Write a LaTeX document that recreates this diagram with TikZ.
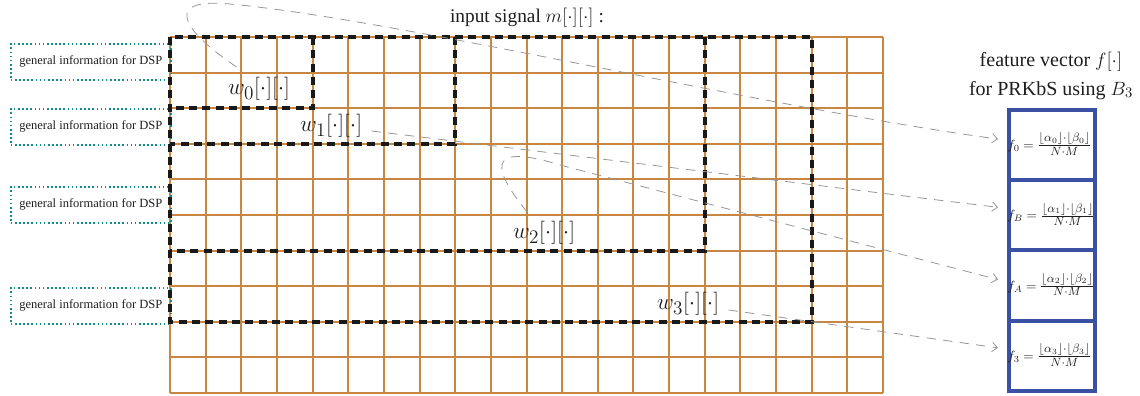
\documentclass[tikz,border=0pt]{standalone}
\usepackage{fontspec}
\setmainfont{Liberation Serif}
\usetikzlibrary{arrows.meta,calc}
\definecolor{gridc}{RGB}{200,134,64}
\definecolor{bluec}{RGB}{58,80,162}
\definecolor{tealc}{RGB}{20,140,140}
\definecolor{connc}{RGB}{150,150,150}
\definecolor{txtc}{RGB}{30,30,30}
\newcommand{\featfrac}[2]{{\fontsize{12.3}{14}\selectfont$\frac{\lfloor\alpha_{#2}\rfloor{\cdot}\lfloor\beta_{#2}\rfloor}{N{\cdot}M}$}}
\begin{document}
\begin{tikzpicture}[x=0.75pt,y=-0.75pt,
  gridline/.style={gridc, line width=1.5pt},
  win/.style={black!90, line width=3pt, dash pattern=on 6pt off 4pt},
  dspbox/.style={draw=tealc, line width=1.2pt, dash pattern=on 1.2pt off 1.9pt,
    minimum width=120pt, minimum height=27pt, inner sep=0pt, anchor=north west,
    text=txtc, font=\fontsize{9.4}{11}\selectfont},
  wlabel/.style={text=txtc, inner sep=1pt, font=\fontsize{19}{21}\selectfont},
  fbox/.style={draw=bluec, line width=3pt, minimum width=64.5pt, minimum height=52.7pt, inner sep=0pt},
  ftext/.style={anchor=west, inner sep=0pt, text=txtc, font=\fontsize{9.8}{12}\selectfont},
  conn/.style={connc, line width=0.6pt, dash pattern=on 7pt off 5.5pt,
    -{Straight Barb[length=4pt,width=7pt]}},
  head/.style={text=txtc, font=\fontsize{15}{21.75}\selectfont, align=center}
]
\useasboundingbox (0,0) rectangle (1140,396);

% grid 20 x 10
\foreach \i in {0,...,20} {
  \draw[gridline] ({170+\i*35.65},37) -- ({170+\i*35.65},393);
}
\foreach \j in {0,...,10} {
  \draw[gridline] (170,{37+\j*35.6}) -- (883,{37+\j*35.6});
}

% DSP boxes
\node[dspbox] (d1) at (10,43) {general information for DSP};
\node[dspbox] (d2) at (10,108) {general information for DSP};
\node[dspbox] (d3) at (10,186) {general information for DSP};
\node[dspbox] (d4) at (10,287) {general information for DSP};

% windows
\draw[win] (170,37) rectangle ({170+18*35.65},{37+8*35.6});
\draw[win] ({170+15*35.65},37) -- ({170+15*35.65},{37+6*35.6}) -- (170,{37+6*35.6});
\draw[win] ({170+8*35.65},37) -- ({170+8*35.65},{37+3*35.6}) -- (170,{37+3*35.6});
\draw[win] ({170+4*35.65},37) -- ({170+4*35.65},{37+2*35.6}) -- (170,{37+2*35.6});

% window labels
\node[wlabel] (w0) at (259,89) {$w_0[\cdot][\cdot]$};
\node[wlabel] (w1) at (331,126) {$w_1[\cdot][\cdot]$};
\node[wlabel] (w2) at (544,233) {$w_2[\cdot][\cdot]$};
\node[wlabel] (w3) at (688,304) {$w_3[\cdot][\cdot]$};

% headers
\node[text=txtc, font=\fontsize{14.5}{17}\selectfont] (inp) at (527,18) {input signal $m[\cdot][\cdot]$ :};
\node[head] (fv) at (1051,75.5) {feature vector $f[\cdot]$\\for PRKbS using $B_3$};

% feature boxes
\node[fbox] (f0) at (1052,145.1) {};
\node[fbox] (f1) at (1052,215.35) {};
\node[fbox] (f2) at (1052,285.6) {};
\node[fbox] (f3) at (1052,355.85) {};
\node[ftext] (t0) at ($(f0.west)+(0,-1)$) {$f_0 =$ \featfrac{}{0}};
\node[ftext] (t1) at ($(f1.west)+(0,-1)$) {$f_B =$ \featfrac{}{1}};
\node[ftext] (t2) at ($(f2.west)+(0,-1)$) {$f_A =$ \featfrac{}{2}};
\node[ftext] (t3) at ($(f3.west)+(0,-1)$) {$f_3 =$ \featfrac{}{3}};

% connector end/start points
\coordinate (e0) at ($(f0.west)+(-9,-6)$);
\coordinate (e1) at ($(f1.west)+(-9,-8)$);
\coordinate (e2) at ($(f2.west)+(-9,-6)$);
\coordinate (e3) at ($(f3.west)+(-9,-8)$);
\coordinate (s0) at ($(w0.north west)+(10,-9)$);
\coordinate (s1) at ($(w1.east)+(8,5)$);
\coordinate (s2) at ($(w2.north)+(-17,-8)$);
\coordinate (s3) at ($(w3.east)+(8,6)$);

% connectors
\draw[conn] (s0) .. controls (175,25) and (168,-2) .. (230,4)
  .. controls (400,20) and (750,105) .. (e0);
\draw[conn] (s1) -- (e1);
\draw[conn] (s2) .. controls (485,160) and (495,145) .. (560,165) -- (e2);
\draw[conn] (s3) -- (e3);
\end{tikzpicture}
\end{document}
